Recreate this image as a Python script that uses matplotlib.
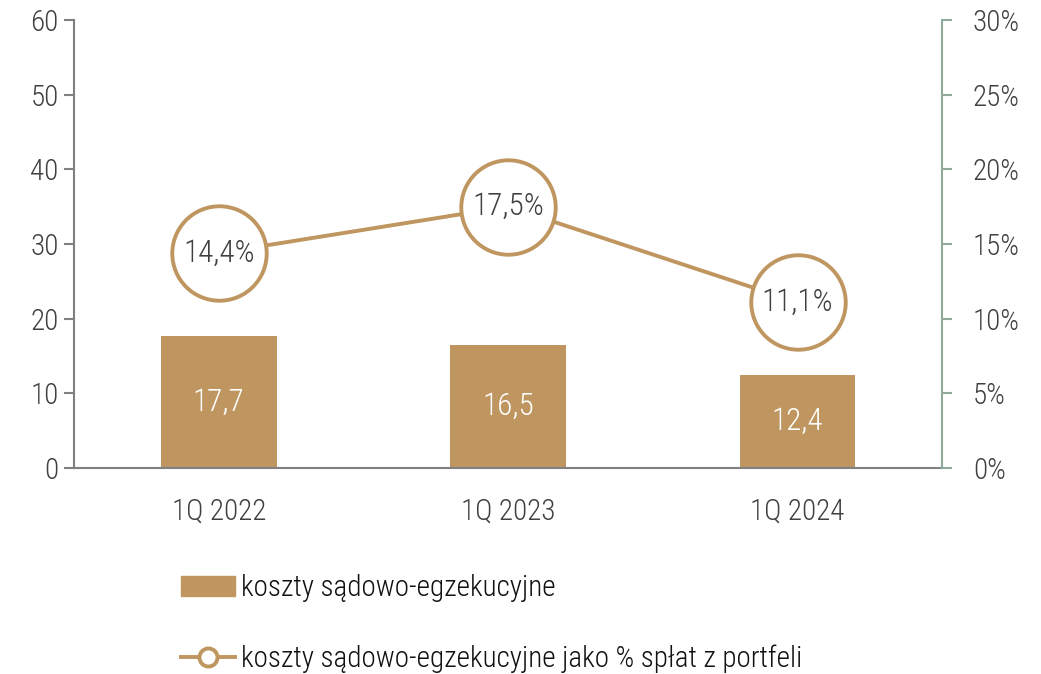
import matplotlib
matplotlib.use("Agg")
import matplotlib.pyplot as plt
from matplotlib import font_manager
from matplotlib.lines import Line2D
from matplotlib.patches import Patch

categories = ["1Q 2022", "1Q 2023", "1Q 2024"]
costs = [17.7, 16.5, 12.4]
share_pct = [14.4, 17.5, 11.1]
left_ticks = [0, 10, 20, 30, 40, 50, 60]
right_ticks = [0, 5, 10, 15, 20, 25, 30]
bar_label = "koszty sądowo-egzekucyjne"
line_label = "koszty sądowo-egzekucyjne jako % spłat z portfeli"

names = {f.name for f in font_manager.fontManager.ttflist}
family = [f for f in ["Roboto Condensed", "Liberation Sans Narrow", "Roboto", "DejaVu Sans"] if f in names]
plt.rcParams["font.family"] = family
plt.rcParams["font.weight"] = 300

gold = "#BF965F"
grey = "#808080"
green = "#8FAA9A"
text_c = "#404040"

fig = plt.figure(figsize=(10.41, 6.74), dpi=100)
ax = fig.add_axes([0.0711, 0.3056, 0.834, 0.6647])
ax2 = ax.twinx()

x = range(len(categories))
ax.bar(x, costs, width=0.4, color=gold, zorder=2)
for xi, v in zip(x, costs):
    ax.text(xi, v / 2, f"{v:.1f}".replace(".", ","), ha="center", va="center",
            color="white", fontsize=22.5)

ax2.plot(x, share_pct, color=gold, lw=2.8, marker="o", ms=68, mfc="white",
         mec=gold, mew=2.8, zorder=3)
for xi, v in zip(x, share_pct):
    ax2.text(xi, v, f"{v:.1f}%".replace(".", ","), ha="center", va="center",
             color=text_c, fontsize=22.5, zorder=4)

ax.set_xlim(-0.5, 2.5)
ax.set_ylim(0, 60)
ax2.set_ylim(0, 30)
ax.set_yticks(left_ticks)
ax2.set_yticks(right_ticks)
ax2.set_yticklabels([f"{t}%" for t in right_ticks])
ax.set_xticks(list(x))
ax.set_xticklabels(categories)

for a in (ax, ax2):
    a.spines["top"].set_visible(False)
ax.spines["right"].set_visible(False)
ax2.spines["left"].set_visible(False)
ax2.spines["bottom"].set_visible(False)
ax.spines["left"].set_color(grey)
ax.spines["bottom"].set_color(grey)
ax.spines["left"].set_linewidth(1.5)
ax.spines["bottom"].set_linewidth(1.5)
ax2.spines["right"].set_color(green)
ax2.spines["right"].set_linewidth(1.5)

ax.tick_params(axis="y", colors=grey, labelcolor=text_c, labelsize=21, length=7, width=1.5, pad=4)
ax.tick_params(axis="x", length=0, labelcolor=text_c, labelsize=21, pad=21)
ax2.tick_params(axis="y", colors=green, labelcolor=text_c, labelsize=21, length=7, width=1.5, pad=15)

handles = [
    Patch(facecolor=gold, edgecolor=gold),
    Line2D([0], [0], color=gold, lw=2.8, marker="o", ms=13, mfc="white", mec=gold, mew=2.8),
]
fig.legend(handles, [bar_label, line_label], loc="upper left",
           bbox_to_anchor=(0.174, 0.148), borderpad=0, borderaxespad=0,
           frameon=False, fontsize=21, labelspacing=1.45, handlelength=1.85,
           handletextpad=0.2, labelcolor="#111111")

fig.savefig("out.png", dpi=100)
